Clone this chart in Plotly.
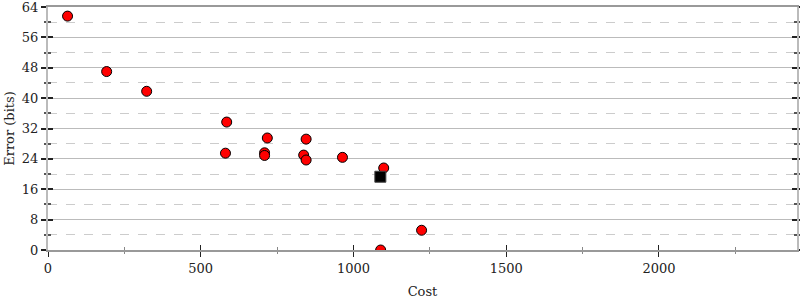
import plotly.graph_objects as go

# Data
cost = [64, 192, 323, 585, 581, 718, 845, 709, 709, 837, 845, 964, 1099, 1089, 1223]
error = [61.6, 47.0, 41.8, 33.7, 25.5, 29.5, 29.2, 25.6, 24.9, 25.0, 23.7, 24.4, 21.6, 0.0, 5.2]
best_cost = [1088]
best_error = [19.3]

FONT = "DejaVu Serif"
FS = 13

fig = go.Figure()
fig.add_trace(go.Scatter(
    x=cost, y=error, mode="markers",
    marker=dict(size=10, color="#ff0000", line=dict(color="#000000", width=1)),
    showlegend=False,
))
fig.add_trace(go.Scatter(
    x=best_cost, y=best_error, mode="markers",
    marker=dict(size=11, symbol="square", color="#000000", line=dict(color="#444444", width=1)),
    showlegend=False,
))
fig.add_trace(go.Scatter(x=[None], y=[None], xaxis="x2", yaxis="y2", showlegend=False, hoverinfo="skip"))

xr = [0, 2452]
yr = [0, 64]

fig.update_layout(
    width=800, height=300,
    margin=dict(l=48, r=3, t=7, b=50, autoexpand=False),
    paper_bgcolor="white", plot_bgcolor="white",
    font=dict(family=FONT, size=FS, color="#222222"),
    xaxis=dict(
        range=xr, tickvals=[0, 500, 1000, 1500, 2000], ticks="outside", ticklen=5,
        tickcolor="#222222", tickwidth=1, automargin=False,
        showgrid=False, zeroline=False, ticklabeloverflow="allow",
        showline=True, linecolor="#999999", linewidth=2, mirror=True,
        title=dict(text="Cost", font=dict(family=FONT, size=FS), standoff=12),
        minor=dict(tickvals=[250, 750, 1250, 1750, 2250], ticks="outside", ticklen=2,
                   tickcolor="#888888", showgrid=False),
        tickfont=dict(family=FONT, size=FS),
    ),
    yaxis=dict(
        range=yr, tickvals=list(range(0, 65, 8)), ticks="outside", ticklen=5,
        tickcolor="#222222", tickwidth=1.5, automargin=False,
        showgrid=True, gridcolor="#bbbbbb", gridwidth=1,
        zeroline=False, ticklabeloverflow="allow",
        showline=True, linecolor="#bbbbbb", linewidth=2, mirror="allticks",
        title=dict(text="Error (bits)", font=dict(family=FONT, size=FS), standoff=4),
        minor=dict(tickvals=list(range(4, 64, 8)), ticks="outside", ticklen=2,
                   tickcolor="#555555", showgrid=True, gridcolor="#cccccc",
                   griddash="dash", gridwidth=1),
        tickfont=dict(family=FONT, size=FS),
    ),
    xaxis2=dict(
        overlaying="x", matches="x", anchor="y", side="bottom",
        tickvals=[0, 500, 1000, 1500, 2000], ticks="inside", ticklen=5,
        tickcolor="#222222", showticklabels=False, showgrid=False, zeroline=False,
        showline=False, automargin=False,
        minor=dict(tickvals=[250, 750, 1250, 1750, 2250], ticks="inside", ticklen=3,
                   tickcolor="#888888", showgrid=False),
    ),
    yaxis2=dict(
        overlaying="y", matches="y", anchor="x", side="left",
        tickvals=list(range(0, 65, 8)), ticks="inside", ticklen=5, tickwidth=1.5,
        tickcolor="#222222", showticklabels=False, showgrid=False, zeroline=False,
        showline=False, mirror="allticks", automargin=False,
        minor=dict(tickvals=list(range(4, 64, 8)), ticks="inside", ticklen=3,
                   tickcolor="#555555", showgrid=False),
    ),
)

fig.write_html("out.html")
